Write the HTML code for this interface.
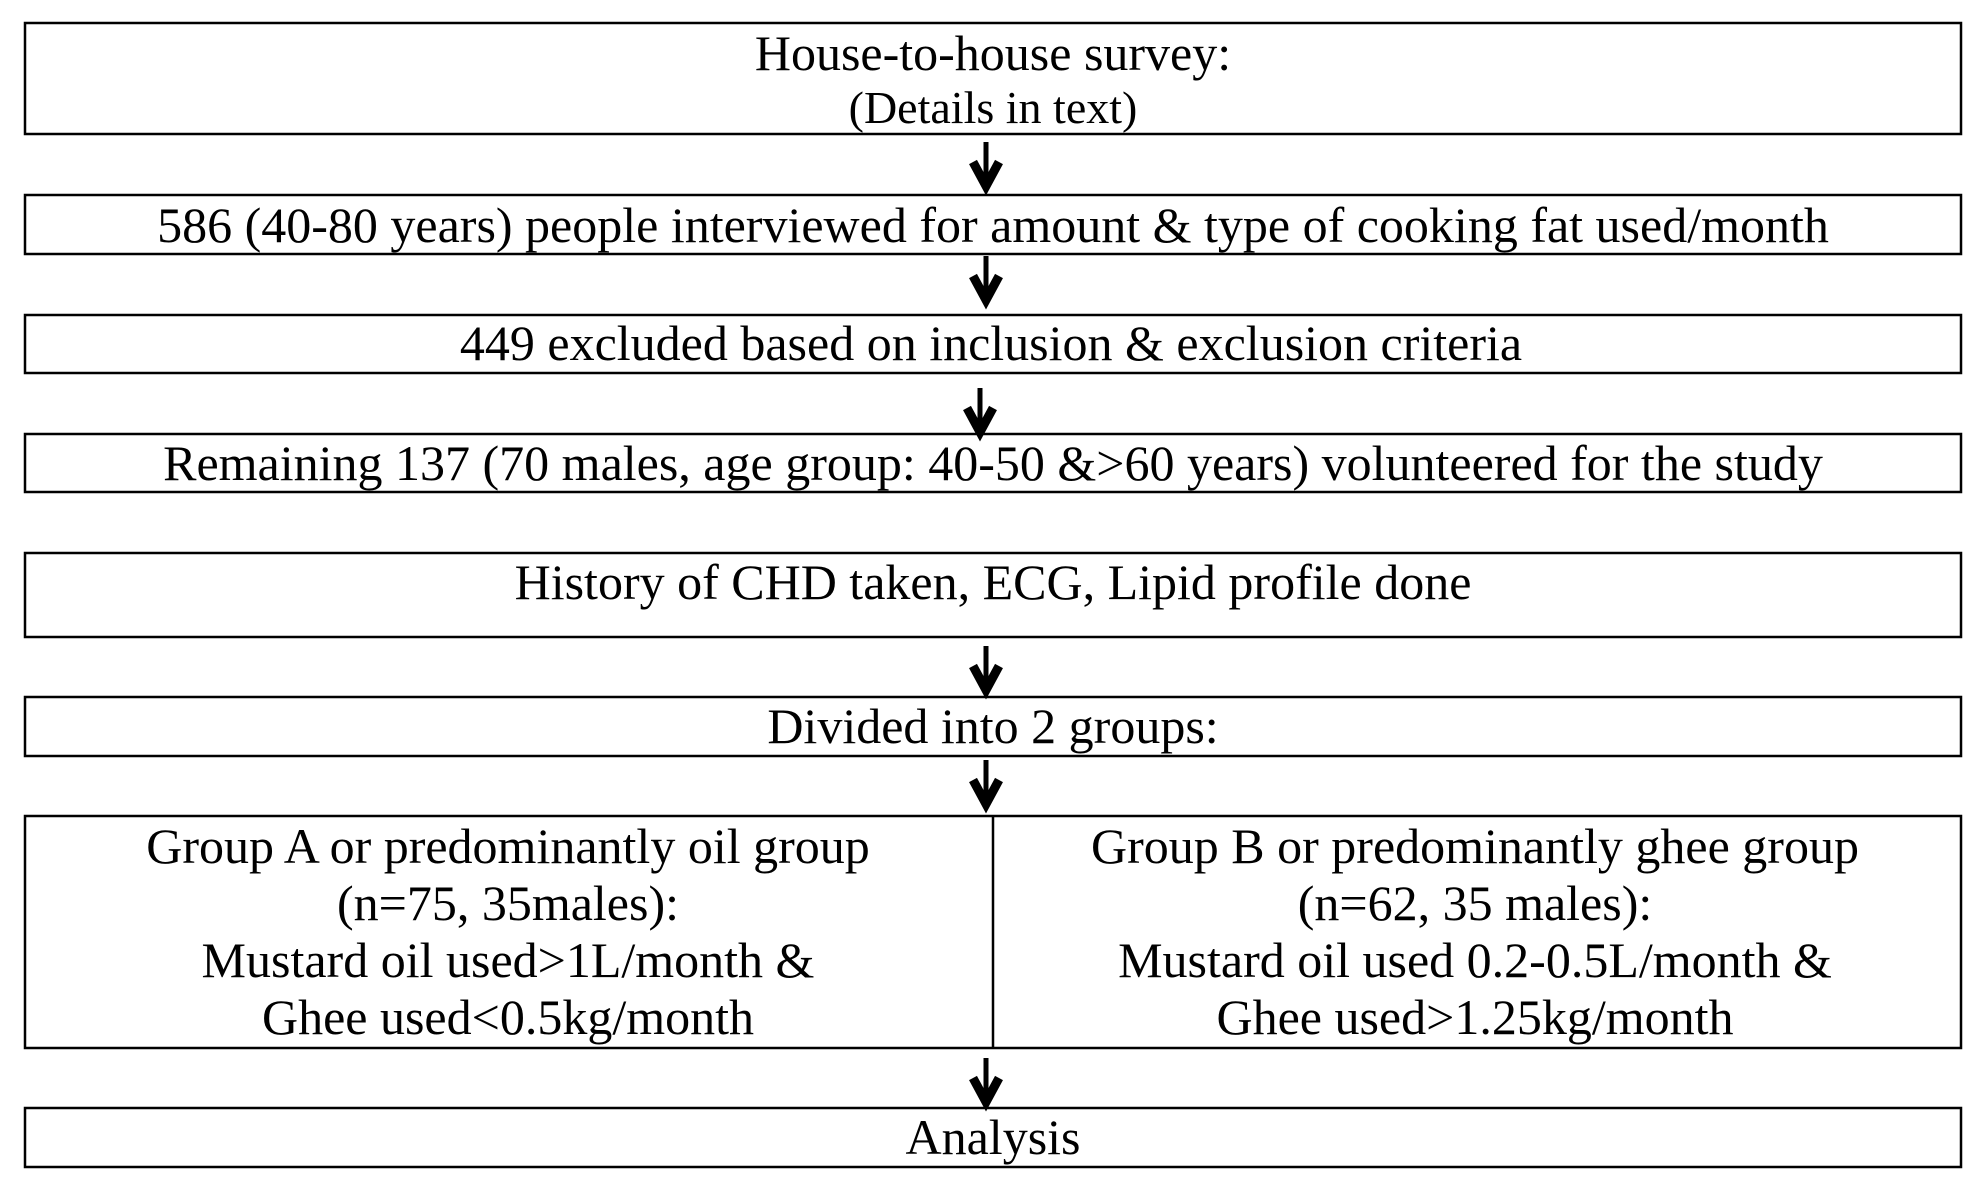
<!DOCTYPE html>
<html><head><style>html,body{margin:0;padding:0;background:#fff}svg{display:block}</style></head>
<body>
<svg width="1965" height="1203" viewBox="0 0 1965 1203" xmlns="http://www.w3.org/2000/svg">
<defs>
<g id="arr">
<line x1="0" y1="0" x2="0" y2="44" stroke="#000" stroke-width="5"/>
<polyline points="-13,20 0,44 13,20" fill="none" stroke="#000" stroke-width="9" stroke-linejoin="miter"/>
</g>
</defs>
<g fill="none" stroke="#000" stroke-width="2.5">
<rect x="25" y="23" width="1936" height="111"/>
<rect x="25" y="195" width="1936" height="59"/>
<rect x="25" y="315" width="1936" height="58"/>
<rect x="25" y="434" width="1936" height="58"/>
<rect x="25" y="553" width="1936" height="84"/>
<rect x="25" y="697" width="1936" height="59"/>
<rect x="25" y="816" width="1936" height="232"/>
<line x1="993" y1="816" x2="993" y2="1048"/>
<rect x="25" y="1108" width="1936" height="59"/>
</g>
<use href="#arr" x="986" y="142"/>
<use href="#arr" x="986" y="256"/>
<use href="#arr" x="980" y="388"/>
<use href="#arr" x="986" y="646"/>
<use href="#arr" x="986" y="760"/>
<use href="#arr" x="986" y="1058"/>
<g font-family="Liberation Serif, serif" font-size="50" fill="#000" text-anchor="middle">
<text x="993" y="70">House-to-house survey:</text>
<text x="993" y="123" font-size="46">(Details in text)</text>
<text x="993" y="242">586 (40-80 years) people interviewed for amount &amp; type of cooking fat used/month</text>
<text x="991" y="360">449 excluded based on inclusion &amp; exclusion criteria</text>
<text x="993" y="480">Remaining 137 (70 males, age group: 40-50 &amp;&gt;60 years) volunteered for the study</text>
<text x="993" y="599">History of CHD taken, ECG, Lipid profile done</text>
<text x="993" y="743">Divided into 2 groups:</text>
<text x="508" y="863">Group A or predominantly oil group</text>
<text x="508" y="920">(n=75, 35males):</text>
<text x="508" y="977">Mustard oil used&gt;1L/month &amp;</text>
<text x="508" y="1034">Ghee used&lt;0.5kg/month</text>
<text x="1475" y="863">Group B or predominantly ghee group</text>
<text x="1475" y="920">(n=62, 35 males):</text>
<text x="1475" y="977">Mustard oil used 0.2-0.5L/month &amp;</text>
<text x="1475" y="1034">Ghee used&gt;1.25kg/month</text>
<text x="993" y="1154">Analysis</text>
</g>
</svg>
</body></html>
